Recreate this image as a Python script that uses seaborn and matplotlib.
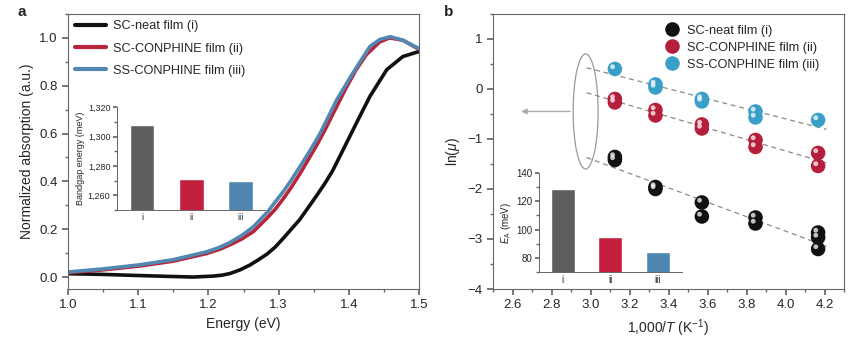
import numpy as np
import pandas as pd
import matplotlib
matplotlib.use("Agg")
import matplotlib.pyplot as plt
from matplotlib.ticker import MultipleLocator, FuncFormatter
from matplotlib.patches import Ellipse
import seaborn as sns

sns.set_theme(style="ticks")
plt.rcParams['font.family'] = ['Liberation Sans', 'DejaVu Sans']
plt.rcParams['mathtext.fontset'] = 'custom'
plt.rcParams['mathtext.it'] = 'Liberation Sans:italic'
plt.rcParams['mathtext.rm'] = 'Liberation Sans'

# ---------------- data: panel a ----------------
film_labels = ["SC-neat film (i)", "SC-CONPHINE film (ii)", "SS-CONPHINE film (iii)"]
energy_i = [1.0, 1.05, 1.093, 1.14, 1.178, 1.207, 1.22, 1.231, 1.245, 1.259, 1.27, 1.283, 1.295, 1.306,
            1.318, 1.33, 1.342, 1.354, 1.366, 1.377, 1.392, 1.411, 1.43, 1.454, 1.477, 1.5]
abs_i = [0.014, 0.011, 0.007, 0.003, 0.0, 0.004, 0.008, 0.015, 0.03, 0.05, 0.07, 0.095, 0.125, 0.16,
         0.2, 0.24, 0.29, 0.34, 0.392, 0.445, 0.533, 0.645, 0.755, 0.867, 0.922, 0.943]
energy_ii = [1.0, 1.05, 1.102, 1.149, 1.197, 1.215, 1.231, 1.248, 1.264, 1.283, 1.295, 1.306, 1.318,
             1.33, 1.342, 1.354, 1.366, 1.377, 1.396, 1.41, 1.425, 1.444, 1.458, 1.477, 1.5]
abs_ii = [0.018, 0.03, 0.046, 0.066, 0.098, 0.115, 0.135, 0.16, 0.19, 0.245, 0.283, 0.325, 0.375,
          0.43, 0.49, 0.55, 0.615, 0.68, 0.79, 0.865, 0.93, 0.983, 1.0, 0.99, 0.952]
energy_iii = [1.0, 1.05, 1.102, 1.149, 1.197, 1.215, 1.231, 1.248, 1.264, 1.285, 1.306, 1.318, 1.33,
              1.345, 1.359, 1.383, 1.406, 1.43, 1.444, 1.459, 1.477, 1.5]
abs_iii = [0.021, 0.034, 0.051, 0.072, 0.105, 0.123, 0.145, 0.175, 0.21, 0.275, 0.355, 0.405, 0.46,
           0.53, 0.6, 0.742, 0.854, 0.964, 0.993, 1.005, 0.99, 0.955]

bar_cats = ["i", "ii", "iii"]
bandgap = [1308, 1271, 1270]

# ---------------- data: panel b ----------------
invT_i = [3.125, 3.125, 3.333, 3.333, 3.571, 3.571, 3.846, 3.846, 4.167, 4.167, 4.167]
lnmu_i = [-1.36, -1.42, -1.96, -2.0, -2.27, -2.55, -2.57, -2.69, -2.87, -2.97, -3.2]
invT_ii = [3.125, 3.125, 3.333, 3.333, 3.571, 3.571, 3.846, 3.846, 4.167, 4.167]
lnmu_ii = [-0.2, -0.27, -0.42, -0.53, -0.71, -0.79, -1.02, -1.16, -1.28, -1.54]
invT_iii = [3.125, 3.333, 3.333, 3.571, 3.571, 3.846, 3.846, 4.167]
lnmu_iii = [0.40, 0.09, 0.03, -0.20, -0.25, -0.45, -0.57, -0.62]
activation = [129, 95, 84]

line_colors = ["#111111", "#b8243a", "#5088b2"]
bar_colors = ["#5e5e5e", "#c41f3e", "#4f86b0"]
dot_colors = ["#111111", "#b51f3c", "#3a9fc8"]

fig = plt.figure(figsize=(8.5, 3.4), dpi=100)
axa = fig.add_axes([0.080, 0.150, 0.413, 0.809])
axb = fig.add_axes([0.580, 0.150, 0.413, 0.809])

spine_col = "#666666"

def style_frame(ax):
    for s in ax.spines.values():
        s.set_color(spine_col)
        s.set_linewidth(0.8)
    ax.tick_params(which="both", direction="out", color=spine_col, labelsize=9.5, top=False, right=False)
    ax.tick_params(which="major", length=4)
    ax.tick_params(which="minor", length=2.5)

# ---- panel a ----
curves = pd.concat([
    pd.DataFrame({"E": energy_i, "A": abs_i, "film": film_labels[0]}),
    pd.DataFrame({"E": energy_ii, "A": abs_ii, "film": film_labels[1]}),
    pd.DataFrame({"E": energy_iii, "A": abs_iii, "film": film_labels[2]}),
])
sns.lineplot(data=curves, x="E", y="A", hue="film", palette=line_colors, linewidth=2.6,
             ax=axa, sort=True, legend=True)
for ln in axa.get_lines():
    ln.set_solid_joinstyle("round")
    ln.set_solid_capstyle("round")
axa.set_xlim(1.0, 1.5)
axa.set_ylim(-0.05, 1.1)
axa.xaxis.set_major_locator(MultipleLocator(0.1))
axa.xaxis.set_minor_locator(MultipleLocator(0.05))
axa.yaxis.set_major_locator(MultipleLocator(0.2))
axa.yaxis.set_minor_locator(MultipleLocator(0.1))
axa.set_xlabel("Energy (eV)", fontsize=10)
axa.set_ylabel("Normalized absorption (a.u.)", fontsize=10)
style_frame(axa)
leg = axa.legend(loc="upper left", frameon=False, fontsize=9.2, handlelength=2.4,
                 handletextpad=0.6, borderaxespad=0.0, labelspacing=0.8,
                 bbox_to_anchor=(0.005, 0.995))
for h in leg.get_lines():
    h.set_linewidth(3)
fig.text(0.02, 0.952, "a", fontsize=11, fontweight="bold")

# inset a
ia = fig.add_axes([0.138, 0.382, 0.174, 0.303])
bars_a = pd.DataFrame({"cat": bar_cats, "val": bandgap})
sns.barplot(data=bars_a, x="cat", y="val", hue="cat", palette=bar_colors, width=0.5,
            ax=ia, legend=False, saturation=1)
ia.set_ylim(1250, 1320)
ia.set_xlim(-0.5, 2.5)
ia.yaxis.set_minor_locator(MultipleLocator(10))
ia.set_yticks([1260, 1280, 1300, 1320])
ia.yaxis.set_major_formatter(FuncFormatter(lambda v, p: f"{int(v):,}"))
ia.set_xlabel("")
ia.set_ylabel("Bandgap energy (meV)", fontsize=6.5, labelpad=2)
sns.despine(ax=ia)
for s in ["left", "bottom"]:
    ia.spines[s].set_color(spine_col)
    ia.spines[s].set_linewidth(0.7)
ia.tick_params(which="both", direction="out", color=spine_col, labelsize=6.5, pad=2)
ia.tick_params(which="major", length=3)
ia.tick_params(which="minor", length=2)
ia.tick_params(axis="x", length=0)
ia.patch.set_alpha(0)

# ---- panel b ----
pts = pd.concat([
    pd.DataFrame({"x": invT_i, "y": lnmu_i, "film": film_labels[0]}),
    pd.DataFrame({"x": invT_ii, "y": lnmu_ii, "film": film_labels[1]}),
    pd.DataFrame({"x": invT_iii, "y": lnmu_iii, "film": film_labels[2]}),
])
xs_fit = np.array([2.98, 4.21])
for xs, ys in [(invT_i, lnmu_i), (invT_ii, lnmu_ii), (invT_iii, lnmu_iii)]:
    k, b = np.polyfit(xs, ys, 1)
    axb.plot(xs_fit, k * xs_fit + b, ls=(0, (4, 3)), color="#8a8a8a", lw=0.9, zorder=1)
sns.scatterplot(data=pts, x="x", y="y", hue="film", palette=dot_colors, s=110,
                edgecolor="none", ax=axb, zorder=3, legend=True)
# highlight glints
for xs, ys in [(invT_i, lnmu_i), (invT_ii, lnmu_ii), (invT_iii, lnmu_iii)]:
    axb.scatter(np.array(xs) - 0.012, np.array(ys) + 0.045, s=12, color="white", alpha=0.75,
                edgecolor="none", zorder=4)
axb.set_xlim(2.5, 4.3)
axb.set_ylim(-4, 1.5)
axb.xaxis.set_major_locator(MultipleLocator(0.2))
axb.xaxis.set_minor_locator(MultipleLocator(0.1))
axb.yaxis.set_major_locator(MultipleLocator(1))
axb.yaxis.set_minor_locator(MultipleLocator(0.5))
axb.yaxis.set_major_formatter(FuncFormatter(lambda v, p: f"{int(v)}".replace("-", "\u2212")))
axb.set_xlabel(r"1,000/$T$ (K$^{-1}$)", fontsize=10)
axb.set_ylabel(r"ln($\mu$)", fontsize=10)
style_frame(axb)
lg = axb.legend(loc="upper right", frameon=False, fontsize=9.2, handletextpad=0.2,
                borderaxespad=0.0, labelspacing=0.4, bbox_to_anchor=(0.945, 0.98))
fig.text(0.522, 0.952, "b", fontsize=11, fontweight="bold")

ell = Ellipse((2.975, -0.45), 0.128, 2.3, fill=False, edgecolor="#999999", lw=0.9, zorder=2)
axb.add_patch(ell)
axb.annotate("", xy=(2.63, -0.45), xytext=(2.91, -0.45),
             arrowprops=dict(arrowstyle="-|>", color="#aaaaaa", lw=1.0, mutation_scale=8))

# inset b
ib = fig.add_axes([0.634, 0.200, 0.168, 0.291])
bars_b = pd.DataFrame({"cat": bar_cats, "val": activation})
sns.barplot(data=bars_b, x="cat", y="val", hue="cat", palette=bar_colors, width=0.5,
            ax=ib, legend=False, saturation=1)
ib.set_ylim(70, 140)
ib.set_xlim(-0.5, 2.5)
ib.set_yticks([80, 100, 120, 140])
ib.yaxis.set_minor_locator(MultipleLocator(10))
ib.set_xlabel("")
ib.set_ylabel(r"$E_{\rm A}$ (meV)", fontsize=7, labelpad=2)
sns.despine(ax=ib)
for s in ["left", "bottom"]:
    ib.spines[s].set_color(spine_col)
    ib.spines[s].set_linewidth(0.7)
ib.tick_params(which="both", direction="out", color=spine_col, labelsize=7, pad=2)
ib.tick_params(which="major", length=3)
ib.tick_params(which="minor", length=2)
ib.tick_params(axis="x", length=0)
ib.patch.set_alpha(0)

fig.savefig("out.png", dpi=100)
